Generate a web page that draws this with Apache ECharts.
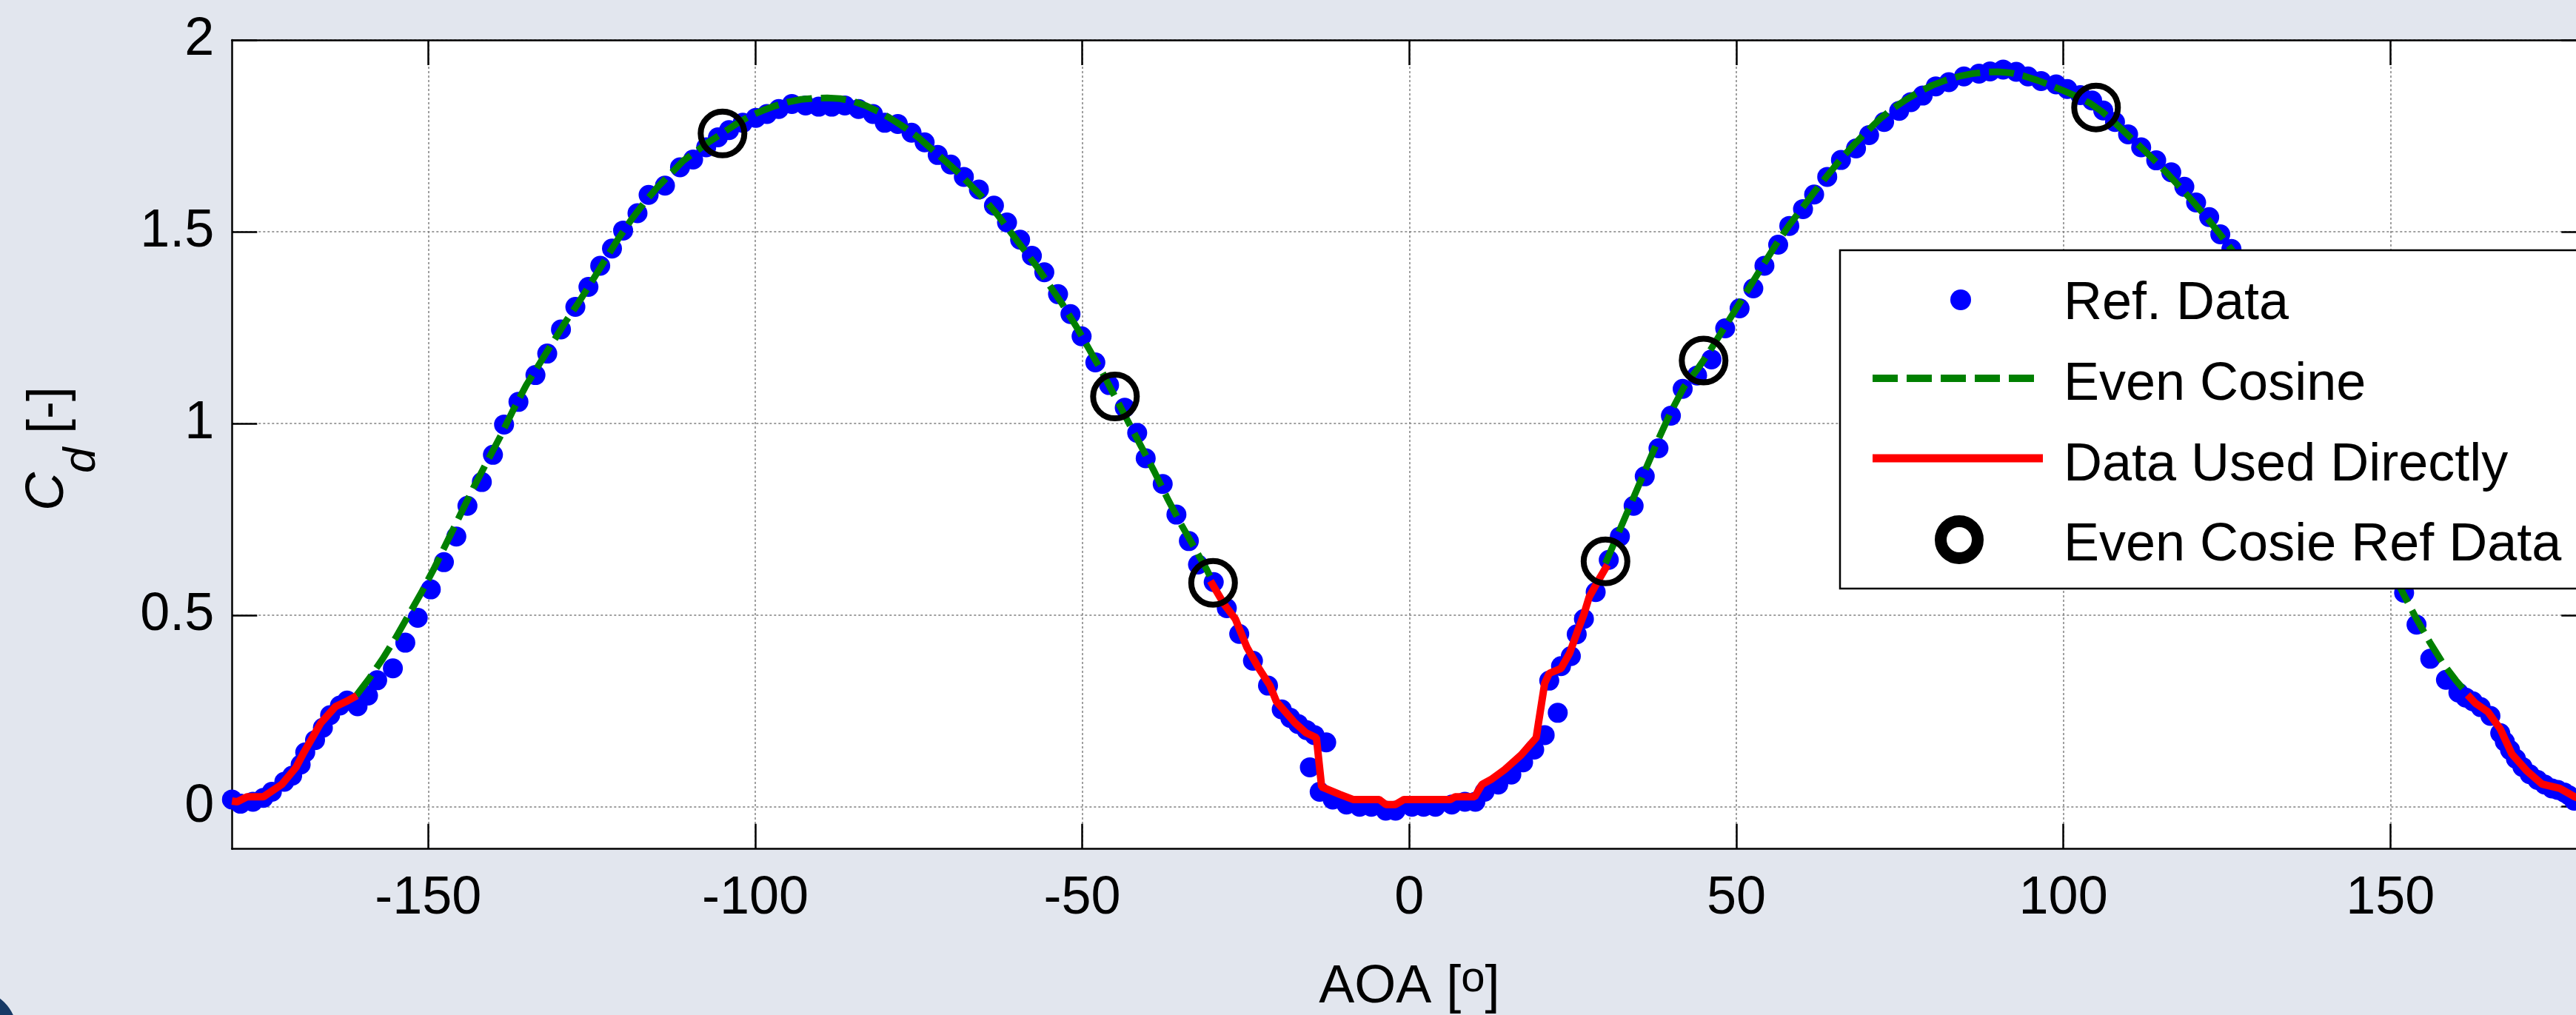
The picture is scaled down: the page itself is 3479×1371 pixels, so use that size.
<!DOCTYPE html>
<html><head><meta charset="utf-8">
<script src="https://cdn.jsdelivr.net/npm/echarts@6/dist/echarts.min.js"></script>
<style>html,body{margin:0;padding:0;background:#E2E6EE;overflow:hidden;} #c{width:3479px;height:1371px;}</style>
</head><body><div id="c"></div>
<script>
// ---------- DATA ----------
const xTicks = [-150, -100, -50, 0, 50, 100, 150];
const yTicks = [0, 0.5, 1, 1.5, 2];

// Ref. Data (blue dots)
const refAoa = [-180,-178.7,-176.8,-175.2,-173.9,-172,-170.8,-169.5,-168.8,-167.3,-166.1,-165,-163.5,-162.4,-160.8,-159.2,-157.8,-155.4,-153.5,-151.6,-149.6,-147.6,-145.7,-144,-141.8,-140.1,-138.4,-136.2,-133.6,-131.8,-129.7,-127.5,-125.5,-123.7,-121.9,-120.2,-118,-116.3,-113.8,-111.5,-109.5,-107.5,-105.7,-104,-101.9,-99.9,-98.2,-96.4,-94.4,-92.3,-90.3,-88.3,-86.3,-84.2,-82,-80.2,-78.2,-76.1,-74.1,-72.1,-70.1,-68.1,-65.8,-63.5,-61.5,-59.5,-57.7,-55.8,-53.7,-51.8,-50.1,-48,-45.9,-43.5,-41.6,-40.3,-37.7,-35.6,-33.7,-32.3,-29.9,-27.9,-26,-23.9,-21.6,-19.5,-18.2,-17,-15.7,-14.5,-12.7,-15.2,-13.7,-11.7,-9.6,-7.6,-5.8,-3.6,-2.1,0.4,2.2,4,6.5,8.5,10.1,11.5,13.6,15.6,17.4,19.1,20.7,22.7,21.4,23.2,24.7,25.6,26.7,28.5,30.5,32.2,34.3,36,38.1,40,41.8,44,46.2,48.3,50.5,52.6,54.3,56.4,58.1,60.2,61.9,63.9,66,68.3,70.3,72.6,74.9,76.7,78.5,80.5,82.5,84.8,87.1,88.8,90.8,92.8,94.6,96.6,98.9,100.6,102.6,104.4,106.1,107.9,109.9,111.9,114.2,116.5,118.5,120.3,122.3,124,125.7,127.6,129.5,131.4,133.3,135.2,137.1,139,140.9,142.8,144.7,146.6,148.5,150.3,152.1,154,156.1,158.5,160.4,161.5,162.6,163.8,165.3,166.8,167.5,168.3,169.2,170.2,171.3,172.5,173.6,174.7,175.6,176.6,177.3,178.1,179,180];
const refCd = [0.019,0.008,0.013,0.023,0.039,0.065,0.081,0.11,0.142,0.174,0.206,0.239,0.264,0.277,0.262,0.29,0.33,0.361,0.428,0.493,0.567,0.638,0.705,0.785,0.847,0.918,0.997,1.056,1.126,1.182,1.245,1.304,1.356,1.411,1.456,1.503,1.548,1.596,1.62,1.668,1.688,1.72,1.746,1.765,1.784,1.797,1.807,1.82,1.833,1.829,1.826,1.826,1.829,1.82,1.807,1.784,1.781,1.758,1.733,1.7,1.675,1.643,1.61,1.568,1.524,1.479,1.437,1.394,1.337,1.285,1.227,1.159,1.1,1.041,0.975,0.909,0.842,0.762,0.693,0.632,0.586,0.518,0.451,0.381,0.316,0.254,0.232,0.216,0.2,0.187,0.168,0.103,0.039,0.019,0.006,0,0,-0.01,-0.01,0,0,0,0.006,0.013,0.013,0.039,0.058,0.084,0.116,0.149,0.187,0.245,0.329,0.367,0.393,0.45,0.49,0.56,0.644,0.705,0.785,0.862,0.935,1.02,1.09,1.125,1.167,1.248,1.3,1.352,1.411,1.466,1.515,1.559,1.597,1.643,1.687,1.717,1.752,1.786,1.815,1.838,1.855,1.879,1.89,1.905,1.912,1.918,1.923,1.917,1.905,1.893,1.884,1.872,1.856,1.842,1.816,1.786,1.754,1.72,1.686,1.655,1.617,1.576,1.538,1.493,1.455,1.41,1.36,1.3,1.24,1.17,1.1,1.03,0.96,0.88,0.8,0.72,0.65,0.6,0.558,0.475,0.386,0.331,0.298,0.285,0.275,0.26,0.237,0.192,0.17,0.148,0.125,0.104,0.085,0.07,0.058,0.048,0.044,0.037,0.03,0.016,0.018,0.019];

// Even Cosine (green dashed), two branches
const cosAoaL = [-161,-159,-157,-155,-153,-151,-149,-147,-145,-143,-141,-139,-137,-135,-133,-131,-129,-127,-125,-123,-121,-119,-117,-115,-113,-111,-109,-107,-105,-103,-101,-99,-97,-95,-93,-91,-89,-87,-85,-83,-81,-79,-77,-75,-73,-71,-69,-67,-65,-63,-61,-59,-57,-55,-53,-51,-49,-47,-45,-43,-41,-39,-37,-35,-33,-31,-30];
const cosCdL = [0.29,0.335,0.385,0.44,0.5,0.56,0.625,0.695,0.765,0.835,0.9,0.965,1.035,1.1,1.155,1.21,1.265,1.315,1.37,1.425,1.48,1.53,1.575,1.615,1.65,1.685,1.71,1.735,1.757,1.78,1.8,1.815,1.828,1.838,1.845,1.848,1.849,1.847,1.84,1.828,1.812,1.792,1.77,1.745,1.715,1.685,1.655,1.62,1.585,1.545,1.5,1.455,1.41,1.36,1.31,1.255,1.195,1.135,1.07,1.005,0.94,0.875,0.805,0.74,0.68,0.62,0.585];
const cosAoaR = [30,32,34,36,38,40,42,44,46,48,50,52,54,56,58,60,62,64,66,68,70,72,74,76,78,80,82,84,86,88,90,92,94,96,98,100,102,104,106,108,110,112,114,116,118,120,122,124,126,128,130,132,134,136,138,140,142,144,146,148,150,152,154,156,158,160,162];
const cosCdR = [0.635,0.715,0.795,0.875,0.955,1.03,1.095,1.14,1.19,1.245,1.3,1.355,1.41,1.465,1.515,1.56,1.605,1.648,1.69,1.727,1.762,1.795,1.822,1.845,1.865,1.882,1.895,1.905,1.912,1.916,1.917,1.914,1.906,1.895,1.882,1.868,1.853,1.836,1.812,1.782,1.75,1.718,1.685,1.65,1.613,1.575,1.535,1.492,1.447,1.4,1.345,1.285,1.22,1.15,1.08,1.005,0.93,0.855,0.775,0.7,0.625,0.555,0.49,0.43,0.375,0.33,0.29];

// Data Used Directly (red), three segments
const usedAoaL = [-180,-179.2,-177.7,-175.2,-172.4,-170.2,-169,-166.4,-164.2,-162.6,-160.9];
const usedCdL  = [0.015,0.013,0.026,0.026,0.058,0.103,0.142,0.219,0.261,0.274,0.29];
const usedAoaM = [-30.4,-28.3,-26.6,-24.8,-23,-21.3,-20.3,-17.5,-15.8,-14.2,-13.4,-10.6,-8.6,-4.6,-3.6,-2.1,-0.8,6.3,7,10,11.1,12.5,14.6,17.1,19.4,20.7,21.4,23.2,24.5,25.7,26.7,27.5,29,30.3];
const usedCdM  = [0.589,0.528,0.49,0.415,0.361,0.316,0.274,0.219,0.193,0.18,0.052,0.032,0.019,0.019,0.006,0.006,0.019,0.019,0.026,0.026,0.058,0.071,0.097,0.135,0.18,0.322,0.348,0.361,0.4,0.457,0.502,0.547,0.593,0.631];
const usedAoaR = [161.8,163,164.9,166.8,168.6,170.9,173.2,175.9,178.2,180];
const usedCdR  = [0.292,0.27,0.248,0.203,0.137,0.093,0.059,0.048,0.026,0.015];

// Even Cosie Ref Data (black circles)
const circAoa = [-105, -45, -30, 30, 45, 105];
const circCd  = [1.756, 1.07, 0.584, 0.64, 1.164, 1.824];

// ---------- CHART ----------
const F = "'Liberation Sans', Arial, Helvetica, sans-serif";
const pairs = (xs, ys) => xs.map((x, i) => [x, ys[i]]);
const chart = echarts.init(document.getElementById('c'), null, {renderer: 'canvas'});

const lineSeries = (xs, ys, color, width, type, z) => ({
  type: 'line', data: pairs(xs, ys), showSymbol: false, symbol: 'none', smooth: false,
  lineStyle: {color: color, width: width, type: type, opacity: 1}, z: z, silent: true, animation: false
});

const axisCommonX = {
  type: 'value', min: -180, max: 180,
  axisLine: {show: true, onZero: false, lineStyle: {color: '#000', width: 2.5}},
  axisTick: {show: true, inside: true, length: 34, customValues: xTicks, lineStyle: {color: '#000', width: 2.5}}
};
const axisCommonY = {
  type: 'value', min: -0.11, max: 2,
  axisLine: {show: true, onZero: false, lineStyle: {color: '#000', width: 2.5}},
  axisTick: {show: true, inside: true, length: 34, customValues: yTicks, lineStyle: {color: '#000', width: 2.5}}
};

const titleText = (text, x, y, size, italic) => ({
  type: 'text', z: 101, silent: true, x: x, y: y, rotation: Math.PI / 2,
  style: {text: text, font: (italic ? 'italic ' : '') + size + 'px ' + F, fill: '#000', align: 'left', verticalAlign: 'middle'}
});

const option = {
  backgroundColor: '#E2E6EE',
  animation: false,
  grid: {left: 313.3, right: -14.3, top: 54, bottom: 224.3, show: true, backgroundColor: '#fff', borderWidth: 0, containLabel: false, outerBoundsMode: 'none'},
  xAxis: [
    Object.assign({}, axisCommonX, {
      position: 'bottom',
      axisLabel: {show: true, customValues: xTicks, margin: 31, fontSize: 72, color: '#000', fontFamily: F},
      splitLine: {show: true, lineStyle: {color: '#808080', width: 1.5, type: [3, 3]}},
      name: '{a|AOA [}{s|o}{a|]}', nameLocation: 'middle', nameGap: 147,
      nameTextStyle: {color: '#000', fontFamily: F, rich: {
        a: {fontSize: 72, fontFamily: F, color: '#000', lineHeight: 80},
        s: {fontSize: 58, fontFamily: F, color: '#000', lineHeight: 14, verticalAlign: 'top'}
      }}
    }),
    Object.assign({}, axisCommonX, {
      position: 'top', axisLabel: {show: false}, splitLine: {show: false}
    })
  ],
  yAxis: [
    Object.assign({}, axisCommonY, {
      position: 'left',
      axisLabel: {show: true, customValues: yTicks, margin: 24, fontSize: 72, color: '#000', fontFamily: F},
      splitLine: {show: true, lineStyle: {color: '#808080', width: 1.5, type: [3, 3]}}
    }),
    Object.assign({}, axisCommonY, {
      position: 'right', axisLabel: {show: false}, splitLine: {show: false}
    })
  ],
  series: [
    {type: 'scatter', name: 'Ref. Data', data: pairs(refAoa, refCd), symbol: 'circle', symbolSize: 27,
     itemStyle: {color: '#0000ff', opacity: 1}, z: 2, silent: true, animation: false},
    Object.assign(lineSeries(cosAoaL, cosCdL, '#008000', 9, [34, 12], 3), {name: 'Even Cosine'}),
    Object.assign(lineSeries(cosAoaR, cosCdR, '#008000', 9, [34, 12], 3), {name: 'Even Cosine'}),
    Object.assign(lineSeries(usedAoaL, usedCdL, '#ff0000', 10, 'solid', 4), {name: 'Data Used Directly'}),
    Object.assign(lineSeries(usedAoaM, usedCdM, '#ff0000', 10, 'solid', 4), {name: 'Data Used Directly'}),
    Object.assign(lineSeries(usedAoaR, usedCdR, '#ff0000', 10, 'solid', 4), {name: 'Data Used Directly'}),
    {type: 'scatter', name: 'Even Cosie Ref Data', data: pairs(circAoa, circCd), symbol: 'circle', symbolSize: 59,
     itemStyle: {color: 'rgba(0,0,0,0)', borderColor: '#000', borderWidth: 8, opacity: 1}, z: 5, silent: true, animation: false}
  ],
  graphic: [
    // y-axis title: C_d [-]
    titleText('C', 65, 690, 72, true),
    titleText('d', 111, 639, 62, true),
    titleText('[-]', 67, 586, 72, false),
    // legend
    {type: 'rect', z: 100, silent: true, shape: {x: 2485, y: 338, width: 1100, height: 457},
     style: {fill: '#fff', stroke: '#000', lineWidth: 2.5}},
    {type: 'circle', z: 101, silent: true, shape: {cx: 2648, cy: 405, r: 14}, style: {fill: '#0000ff'}},
    {type: 'line', z: 101, silent: true, shape: {x1: 2529, y1: 511, x2: 2759, y2: 511},
     style: {stroke: '#008000', lineWidth: 10, lineDash: [34, 12]}},
    {type: 'line', z: 101, silent: true, shape: {x1: 2529, y1: 619, x2: 2759, y2: 619},
     style: {stroke: '#ff0000', lineWidth: 11}},
    {type: 'circle', z: 101, silent: true, shape: {cx: 2646, cy: 729, r: 25},
     style: {fill: 'none', stroke: '#000', lineWidth: 16}},
    {type: 'text', z: 101, silent: true, x: 2787, y: 411, style: {text: 'Ref. Data', font: '72px ' + F, fill: '#000', verticalAlign: 'middle', align: 'left'}},
    {type: 'text', z: 101, silent: true, x: 2787, y: 520, style: {text: 'Even Cosine', font: '72px ' + F, fill: '#000', verticalAlign: 'middle', align: 'left'}},
    {type: 'text', z: 101, silent: true, x: 2787, y: 629, style: {text: 'Data Used Directly', font: '72px ' + F, fill: '#000', verticalAlign: 'middle', align: 'left'}},
    {type: 'text', z: 101, silent: true, x: 2787, y: 737, style: {text: 'Even Cosie Ref Data', font: '72px ' + F, fill: '#000', verticalAlign: 'middle', align: 'left'}},
    {type: 'circle', z: 101, silent: true, shape: {cx: -35, cy: 1395, r: 58}, style: {fill: '#173a66'}}
  ]
};
chart.setOption(option);
</script></body></html>
